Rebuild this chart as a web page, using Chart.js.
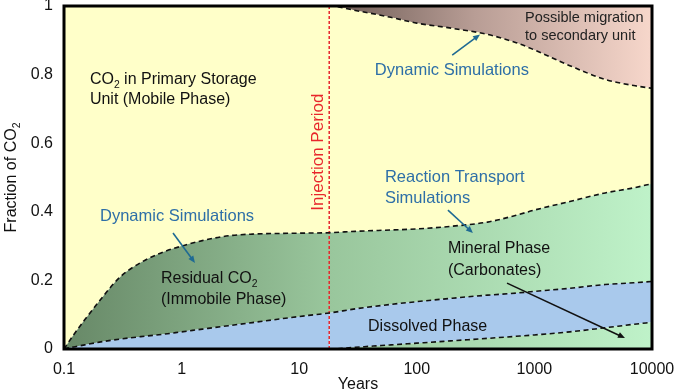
<!DOCTYPE html>
<html><head><meta charset="utf-8">
<script src="https://cdn.jsdelivr.net/npm/chart.js@4/dist/chart.umd.min.js"></script>
<style>html,body{margin:0;padding:0;background:#fff}#wrap{width:680px;height:392px;position:relative}canvas{display:block}</style>
</head><body><div id="wrap"><canvas id="c" width="680" height="392"></canvas></div>
<script>
// ---- data ----
const years = [0.1,0.12,0.15,0.2,0.3,0.45,0.7,1,1.5,2.5,4,7,12,18,30,60,100,200,400,700,1000,2000,4000,7000,10000];
const mineralTop   = [0,0,0,0,0,0,0,0,0,0,0,0,0,0,0.005,0.012,0.017,0.024,0.031,0.037,0.041,0.05,0.062,0.072,0.078];
const dissolvedTop = [0,0.006,0.012,0.02,0.029,0.036,0.043,0.05,0.058,0.068,0.077,0.088,0.098,0.105,0.117,0.13,0.138,0.148,0.157,0.163,0.168,0.177,0.188,0.193,0.197];
const residualTop  = [0,0.04,0.085,0.14,0.21,0.252,0.283,0.30,0.316,0.33,0.335,0.337,0.338,0.339,0.343,0.347,0.35,0.358,0.37,0.39,0.405,0.43,0.455,0.47,0.482];
const mobileTop    = [1,1,1,1,1,1,1,1,1,1,1,1,1,1,0.987,0.967,0.95,0.935,0.917,0.893,0.872,0.826,0.786,0.768,0.76];
const injectionYear = 18;
const xTicks = [0.1,1,10,100,1000,10000];
const yTicks = [0,0.2,0.4,0.6,0.8,1];

const FONT = '"Liberation Sans", Arial, sans-serif';
const pts = arr => years.map((yr,i)=>({x:yr,y:arr[i]}));

function hGrad(chart, stops, fromX, fallback){
  const {ctx, chartArea, scales} = chart;
  if(!chartArea) return fallback;
  const x0 = fromX!=null ? scales.x.getPixelForValue(fromX) : chartArea.left;
  const g = ctx.createLinearGradient(x0,0,chartArea.right,0);
  stops.forEach(([o,c])=>g.addColorStop(o,c));
  return g;
}
const greenStops = [[0,'#678867'],[0.45,'#99c69c'],[1,'#bff2c9']];
const brownStops = [[0,'#6d5b55'],[0.45,'#b89d95'],[1,'#f7d7cb']];

const dash = {borderColor:'#111', borderWidth:1.6, borderDash:[5,3.5], pointRadius:0, cubicInterpolationMode:'monotone'};
const hideBefore = yr => ({borderColor: c => (c.p1.parsed.x <= yr ? 'rgba(0,0,0,0)' : '#111')});

// ---- annotations (data coordinates) ----
const BLUE = '#2e6fa7', ABLUE = '#1f6a93';
const texts = [
  {parts:[['CO'],['2',1],[' in Primary Storage']], x:0.166, y:0.784, c:'#111', s:16},
  {parts:[['Unit (Mobile Phase)']], x:0.166, y:0.726, c:'#111', s:16},
  {parts:[['Possible migration']], x:832, y:0.965, c:'#222', s:14.5},
  {parts:[['to secondary unit']], x:832, y:0.913, c:'#222', s:14.5},
  {parts:[['Dynamic Simulations']], x:44, y:0.813, c:BLUE, s:16.5},
  {parts:[['Reaction Transport']], x:53.6, y:0.499, c:BLUE, s:16.5},
  {parts:[['Simulations']], x:53.6, y:0.44, c:BLUE, s:16.5},
  {parts:[['Mineral Phase']], x:184, y:0.2915, c:'#111', s:16},
  {parts:[['(Carbonates)']], x:184, y:0.23, c:'#111', s:16},
  {parts:[['Dissolved Phase']], x:38.5, y:0.064, c:'#111', s:16},
  {parts:[['Dynamic Simulations']], x:0.2024, y:0.385, c:BLUE, s:16.5},
  {parts:[['Residual CO'],['2',1]], x:0.668, y:0.204, c:'#111', s:16},
  {parts:[['(Immobile Phase)']], x:0.668, y:0.143, c:'#111', s:16}
];
const arrows = [
  {x1:200, y1:0.857, x2:345, y2:0.917, c:ABLUE},
  {x1:184, y1:0.405, x2:300, y2:0.338, c:ABLUE},
  {x1:585, y1:0.192, x2:5890, y2:0.032, c:'#111'},
  {x1:0.845, y1:0.338, x2:1.30, y2:0.251, c:ABLUE}
];

function drawParts(ctx, parts, x, y, s, align){
  let w = 0;
  const widths = parts.map(([t,sub])=>{ctx.font = (sub? s*0.65 : s)+'px '+FONT; const m = ctx.measureText(t).width; w+=m; return m;});
  let cx = align==='center' ? x - w/2 : x;
  ctx.textAlign='left';
  parts.forEach(([t,sub],i)=>{
    ctx.font = (sub? s*0.65 : s)+'px '+FONT;
    ctx.fillText(t, cx, y + (sub? s*0.3 : 0));
    cx += widths[i];
  });
}

const annot = {
  id:'annot',
  afterDatasetsDraw(chart){
    const {ctx, chartArea:a, scales:{x,y}} = chart;
    ctx.save();
    ctx.textBaseline='middle'; ctx.textAlign='left';
    texts.forEach(t=>{ctx.fillStyle=t.c; drawParts(ctx,t.parts,x.getPixelForValue(t.x),y.getPixelForValue(t.y),t.s,'left');});
    arrows.forEach(ar=>{
      const px1=x.getPixelForValue(ar.x1), py1=y.getPixelForValue(ar.y1);
      const px2=x.getPixelForValue(ar.x2), py2=y.getPixelForValue(ar.y2);
      const ang=Math.atan2(py2-py1,px2-px1), L=7;
      ctx.strokeStyle=ar.c; ctx.fillStyle=ar.c; ctx.lineWidth=1.6; ctx.setLineDash([]);
      ctx.beginPath(); ctx.moveTo(px1,py1); ctx.lineTo(px2-Math.cos(ang)*L*0.7,py2-Math.sin(ang)*L*0.7); ctx.stroke();
      ctx.beginPath(); ctx.moveTo(px2,py2);
      ctx.lineTo(px2-L*Math.cos(ang)+3*Math.sin(ang), py2-L*Math.sin(ang)-3*Math.cos(ang));
      ctx.lineTo(px2-L*Math.cos(ang)-3*Math.sin(ang), py2-L*Math.sin(ang)+3*Math.cos(ang));
      ctx.closePath(); ctx.fill();
    });
    // Injection Period label
    ctx.save();
    ctx.translate(x.getPixelForValue(14.45), y.getPixelForValue(0.574));
    ctx.rotate(-Math.PI/2);
    ctx.fillStyle='#e8262b'; ctx.textAlign='center'; ctx.font='17px '+FONT;
    ctx.fillText('Injection Period',0,0);
    ctx.restore();
    // frame
    ctx.strokeStyle='#000'; ctx.lineWidth=3; ctx.setLineDash([]);
    ctx.strokeRect(a.left,a.top,a.right-a.left,a.bottom-a.top);
    // axis titles
    ctx.fillStyle='#111';
    ctx.save();
    ctx.translate(a.left-52,(a.top+a.bottom)/2);
    ctx.rotate(-Math.PI/2);
    drawParts(ctx,[['Fraction of CO'],['2',1]],0,0,16,'center');
    ctx.restore();
    ctx.font='16px '+FONT; ctx.textAlign='center';
    ctx.fillText('Years',(a.left+a.right)/2,a.bottom+36);
    ctx.restore();
  }
};

new Chart(document.getElementById('c'),{
  type:'line',
  data:{datasets:[
    Object.assign({label:'Mineral', data:pts(mineralTop), fill:'origin',
      backgroundColor:c=>hGrad(c.chart,greenStops,null,'#bff2c9'), segment:hideBefore(injectionYear)}, dash, {borderColor:'#111'}),
    Object.assign({label:'Dissolved', data:pts(dissolvedTop), fill:'-1', backgroundColor:'#a9c9ec'}, dash),
    Object.assign({label:'Residual', data:pts(residualTop), fill:'-1',
      backgroundColor:c=>hGrad(c.chart,greenStops,null,'#99c69c')}, dash),
    Object.assign({label:'Mobile', data:pts(mobileTop), fill:'-1', backgroundColor:'#ffffc9',
      segment:hideBefore(injectionYear)}, dash),
    {label:'Migration', data:pts(mobileTop), fill:'end', borderWidth:0, borderColor:'rgba(0,0,0,0)', pointRadius:0,
      cubicInterpolationMode:'monotone', backgroundColor:c=>hGrad(c.chart,brownStops,injectionYear,'#c9aca2')},
    {label:'Injection', data:[{x:injectionYear,y:0},{x:injectionYear,y:1}], borderColor:'#e8262b', borderWidth:1.5,
      borderDash:[3,2], pointRadius:0, fill:false}
  ]},
  options:{
    responsive:false, animation:false, devicePixelRatio:1,
    layout:{padding:{left:0,right:28,top:6,bottom:0}},
    plugins:{legend:{display:false}, tooltip:{enabled:false}, filler:{drawTime:'beforeDatasetsDraw'}},
    scales:{
      x:{type:'logarithmic', min:0.1, max:10000,
        grid:{display:false, drawTicks:false}, border:{display:false},
        afterBuildTicks:s=>{s.ticks = xTicks.map(v=>({value:v}));},
        afterFit:s=>{s.height=43; s.paddingLeft=0; s.paddingRight=0;},
        ticks:{autoSkip:false, maxRotation:0, padding:11, color:'#111', font:{family:FONT,size:16}, callback:v=>String(v)}},
      y:{type:'linear', min:0, max:1,
        grid:{display:false, drawTicks:false}, border:{display:false},
        afterBuildTicks:s=>{s.ticks = yTicks.map(v=>({value:v}));},
        afterFit:s=>{s.width=64; s.paddingTop=0; s.paddingBottom=0;},
        ticks:{padding:11, color:'#111', font:{family:FONT,size:16}, callback:v=>String(v)}}
    }
  },
  plugins:[annot]
});
</script>
</body></html>
